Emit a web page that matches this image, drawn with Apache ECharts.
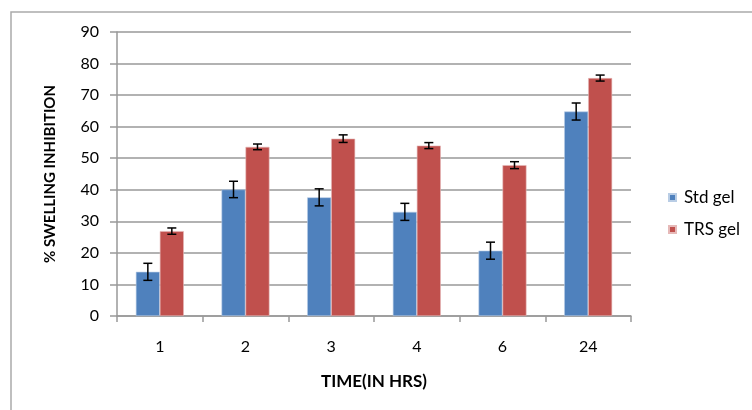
<!DOCTYPE html>
<html>
<head>
<meta charset="utf-8">
<script src="https://cdn.jsdelivr.net/npm/echarts@6/dist/echarts.min.js"></script>
<style>
html,body{margin:0;padding:0;background:#fff;}
#chart{width:752px;height:410px;}
</style>
</head>
<body>
<div id="chart"></div>
<script>
var categories = ['1', '2', '3', '4', '6', '24'];
var stdGel = [14.0, 40.1, 37.6, 33.0, 20.7, 64.8];
var stdErr = [2.7, 2.6, 2.7, 2.7, 2.7, 2.7];
var trsGel = [26.9, 53.6, 56.2, 54.0, 47.8, 75.4];
var trsErr = [1.0, 0.9, 1.2, 0.95, 1.1, 0.95];
var yTicks = [0, 10, 20, 30, 40, 50, 60, 70, 80, 90];

var FONT = 'Lato, "Open Sans", sans-serif';
var GAP = 0.44;

function errSeries(vals, errs, side) {
  return {
    type: 'custom',
    z: 10,
    data: vals.map(function (v, i) { return [i, v, errs[i]]; }),
    renderItem: function (params, api) {
      var i = api.value(0), v = api.value(1), e = api.value(2);
      var band = api.size([1, 0])[0];
      var barW = band * (1 - GAP) / 2;
      var c = api.coord([i, v]);
      var x = c[0] + side * barW / 2;
      var top = api.coord([i, v + e])[1];
      var bot = api.coord([i, v - e])[1];
      var cap = 4.5;
      var st = { stroke: '#000', lineWidth: 1.5 };
      return {
        type: 'group',
        children: [
          { type: 'line', shape: { x1: x, y1: top, x2: x, y2: bot }, style: st },
          { type: 'line', shape: { x1: x - cap, y1: top, x2: x + cap, y2: top }, style: st },
          { type: 'line', shape: { x1: x - cap, y1: bot, x2: x + cap, y2: bot }, style: st }
        ]
      };
    }
  };
}

var chart = echarts.init(document.getElementById('chart'));
chart.setOption({
  animation: false,
  backgroundColor: '#fff',
  textStyle: { fontFamily: FONT },
  graphic: [{
    type: 'rect',
    shape: { x: 11, y: 12, width: 800, height: 500 },
    style: { fill: 'none', stroke: '#aaa', lineWidth: 1.5 },
    z: -1
  }],
  grid: { left: 117, top: 32, width: 514, height: 284 },
  legend: {
    orient: 'vertical',
    left: 663,
    top: 184,
    itemWidth: 7,
    itemHeight: 7,
    itemGap: 15,
    icon: 'rect',
    textStyle: { fontFamily: FONT, fontSize: 17, color: '#000', padding: [0, 0, 0, 3] },
    data: ['Std gel', 'TRS gel']
  },
  xAxis: {
    type: 'category',
    data: categories,
    name: 'TIME(IN HRS)',
    nameLocation: 'middle',
    nameGap: 57,
    nameTextStyle: { fontFamily: FONT, fontWeight: 'bold', fontSize: 17, color: '#000' },
    axisLine: { lineStyle: { color: '#999', width: 1.5 } },
    axisTick: { show: true, length: 6, lineStyle: { color: '#999', width: 1.5 } },
    axisLabel: { fontFamily: FONT, fontSize: 16, color: '#000', margin: 23 }
  },
  yAxis: {
    type: 'value',
    min: 0,
    max: 90,
    interval: 10,
    name: '% SWELLING INHIBITION',
    nameLocation: 'middle',
    nameRotate: 90,
    nameGap: 59,
    nameTextStyle: { fontFamily: FONT, fontWeight: 'bold', fontSize: 15, color: '#000' },
    axisLine: { show: true, lineStyle: { color: '#999', width: 1.5 } },
    axisTick: { show: true, length: 7, lineStyle: { color: '#999', width: 1.5 } },
    splitLine: { lineStyle: { color: '#999', width: 1.5 } },
    axisLabel: {
      fontFamily: FONT, fontSize: 16, color: '#000', margin: 18,
      formatter: function (v) { return yTicks.indexOf(v) >= 0 ? String(v) : ''; }
    }
  },
  series: [
    {
      name: 'Std gel', type: 'bar', data: stdGel,
      barGap: '0%', barCategoryGap: (GAP * 100) + '%',
      itemStyle: { color: '#4F81BD', borderColor: '#b9cde5', borderWidth: 0.6 }
    },
    {
      name: 'TRS gel', type: 'bar', data: trsGel,
      barGap: '0%', barCategoryGap: (GAP * 100) + '%',
      itemStyle: { color: '#C0504D', borderColor: '#e6b9b8', borderWidth: 0.6 }
    },
    errSeries(stdGel, stdErr, -1),
    errSeries(trsGel, trsErr, 1)
  ]
});
</script>
</body>
</html>
